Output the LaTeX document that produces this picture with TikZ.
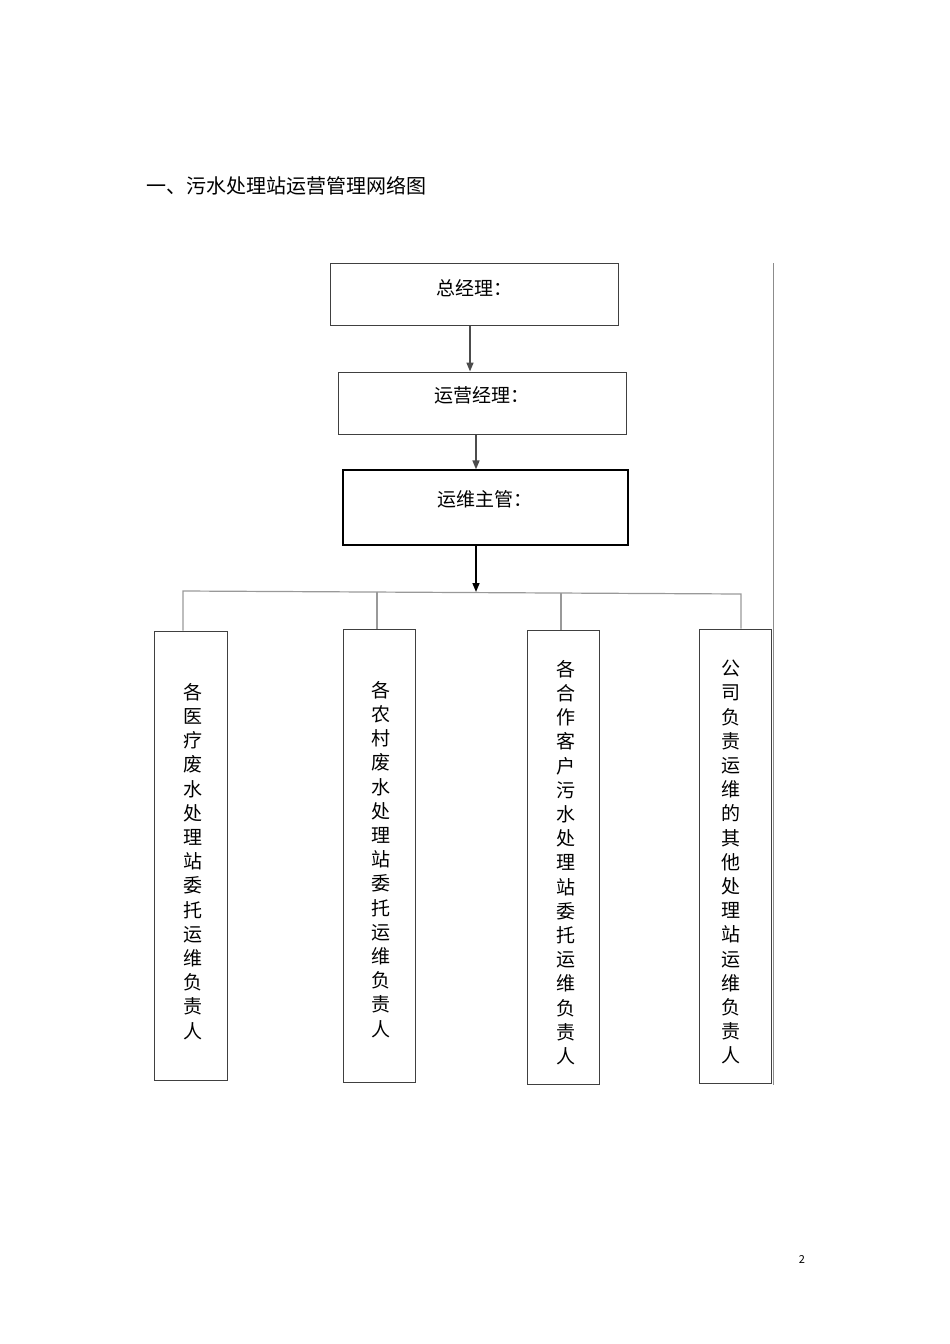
\documentclass[tikz,border=0pt]{standalone}
\usepackage{fontspec}
\setmainfont{Noto Sans CJK SC}
\usetikzlibrary{arrows.meta}
\begin{document}
\begin{tikzpicture}[x=1pt,y=-1pt,
  box/.style={draw=black!75,line width=1pt},
  arr/.style={draw=black!70,line width=1.6pt,-{Triangle[length=9pt,width=7pt]}},
  bus/.style={draw=black!40,line width=1.2pt},
  vtext/.style={align=center,font=\fontsize{19}{24.2}\selectfont,inner sep=0pt}]
\useasboundingbox (0,0) rectangle (950,1344);
\node[anchor=west,font=\fontsize{20}{24}\selectfont] (title) at (143,186) {一、污水处理站运营管理网络图};
\node[box,minimum width=288pt,minimum height=62pt] (b1) at (474,294) {};
\node[font=\fontsize{19}{22}\selectfont] (t1) at (474,288) {总经理：};
\node[box,minimum width=288pt,minimum height=62pt] (b2) at (482,403) {};
\node[font=\fontsize{19}{22}\selectfont] (t2) at (482,395) {运营经理：};
\node[box,draw=black,line width=1.2pt,minimum width=285pt,minimum height=75pt] (b3) at (485.5,507.5) {};
\node[font=\fontsize{19}{22}\selectfont] (t3) at (485,499) {运维主管：};
\coordinate (a1) at (470,0);
\coordinate (a2) at (476,0);
\draw[arr] (a1 |- b1.south) -- (a1 |- b2.north);
\draw[arr] (a2 |- b2.south) -- (a2 |- b3.north);
\coordinate (j) at (476,592);
\draw[arr,draw=black] (a2 |- b3.south) -- (j);
\node[box,minimum width=73pt,minimum height=449pt] (c1) at (190.5,855.5) {};
\node[box,minimum width=72pt,minimum height=453pt] (c2) at (379,855.5) {};
\node[box,minimum width=72pt,minimum height=454pt] (c3) at (563,857) {};
\node[box,minimum width=72pt,minimum height=454pt] (c4) at (735,856) {};
\node[vtext,anchor=north] (v1) at (193,683) {各\\医\\疗\\废\\水\\处\\理\\站\\委\\托\\运\\维\\负\\责\\人};
\node[vtext,anchor=north] (v2) at (381,681) {各\\农\\村\\废\\水\\处\\理\\站\\委\\托\\运\\维\\负\\责\\人};
\node[vtext,anchor=north] (v3) at (566,660) {各\\合\\作\\客\\户\\污\\水\\处\\理\\站\\委\\托\\运\\维\\负\\责\\人};
\node[vtext,anchor=north] (v4) at (731,660) {公\\司\\负\\责\\运\\维\\的\\其\\他\\处\\理\\站\\运\\维\\负\\责\\人};
\coordinate (l) at (183,591);
\coordinate (r) at (741,594);
\coordinate (m2) at (377,591.5);
\coordinate (m3) at (561,593);
\draw[bus] (l |- c1.north) -- (l) -- (r) -- (r |- c4.north);
\draw[bus] (m2) -- (m2 |- c2.north);
\draw[bus] (m3) -- (m3 |- c3.north);
\coordinate (vt) at (773,263);
\coordinate (vb) at (773,1085);
\draw[draw=black!45,line width=1pt] (vt) -- (vb);
\node[font=\fontsize{11}{13}\selectfont] (pg) at (802,1259) {2};
\end{tikzpicture}
\end{document}
